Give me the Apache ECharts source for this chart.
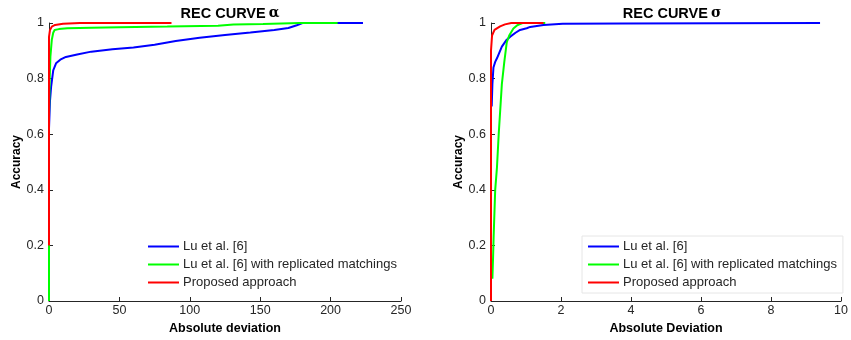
<!DOCTYPE html>
<html>
<head>
<meta charset="utf-8">
<script src="https://cdn.jsdelivr.net/npm/echarts@6/dist/echarts.min.js"></script>
<style>
  html, body { margin: 0; padding: 0; background: #fff; }
  #chart { width: 851px; height: 340px; }
</style>
</head>
<body>
<div id="chart"></div>
<script>
// names
var seriesNames = ['Lu et al. [6]', 'Lu et al. [6] with replicated matchings', 'Proposed approach']
var seriesColors = ['#0000ff', '#00ff00', '#ff0000']

// REC curve alpha (left)
var blueAlphaX = [0, 0, 0.7, 1.5, 3, 5, 8, 12, 20, 30, 45, 60, 75, 90, 107, 125, 143, 160, 170, 176, 180, 223]
var blueAlphaY = [0.47, 0.62, 0.72, 0.77, 0.83, 0.855, 0.868, 0.878, 0.887, 0.897, 0.906, 0.912, 0.922, 0.935, 0.947, 0.957, 0.966, 0.975, 0.982, 0.992, 1, 1]
var greenAlphaX = [0, 0, 0.5, 1, 2, 3, 4, 7, 13, 30, 50, 84, 120, 131, 152, 178, 205]
var greenAlphaY = [0, 0.66, 0.8, 0.88, 0.94, 0.965, 0.975, 0.978, 0.981, 0.983, 0.985, 0.987, 0.99, 0.995, 0.996, 1, 1]
var redAlphaX = [0, 0, 0.7, 2, 4.3, 10, 22, 87]
var redAlphaY = [0.2, 0.95, 0.975, 0.987, 0.993, 0.997, 1, 1]

// REC curve sigma (right)
var blueSigmaX = [0.02, 0.04, 0.07, 0.12, 0.17, 0.31, 0.45, 0.55, 0.7, 0.83, 1.02, 1.12, 1.5, 2.05, 3.75, 3.8, 9.4]
var blueSigmaY = [0.7, 0.78, 0.84, 0.86, 0.873, 0.915, 0.94, 0.951, 0.965, 0.975, 0.981, 0.986, 0.993, 0.997, 0.998, 1, 1]
var greenSigmaX = [0.04, 0.06, 0.075, 0.12, 0.17, 0.22, 0.26, 0.31, 0.38, 0.45, 0.52, 0.64, 0.75, 0.83, 0.9, 1.55]
var greenSigmaY = [0.08, 0.16, 0.23, 0.4, 0.48, 0.6, 0.68, 0.78, 0.86, 0.93, 0.955, 0.98, 0.992, 0.996, 1, 1]
var redSigmaX = [0, 0, 0.03, 0.1, 0.26, 0.4, 0.58, 1.5]
var redSigmaY = [0, 0.9, 0.955, 0.975, 0.988, 0.995, 1, 1]

// axes
var alphaXTicks = { min: 0, max: 250, interval: 50 }
var sigmaXTicks = { min: 0, max: 10, interval: 2 }
var yTicks = { min: 0, max: 1, interval: 0.2 }

var font = 'Arial, "Liberation Sans", Helvetica, sans-serif'
var ink = '#262626'

function pairs(xs, ys) {
  return xs.map(function (x, i) { return [x, ys[i]] })
}

function xAxis(grid, ticks, name) {
  return {
    type: 'value',
    gridIndex: grid,
    min: ticks.min,
    max: ticks.max,
    interval: ticks.interval,
    name: name,
    nameLocation: 'middle',
    nameGap: 19,
    nameTextStyle: { fontFamily: font, fontWeight: 'bold', fontSize: 12.5, color: '#000' },
    axisLine: { show: true, lineStyle: { color: ink, width: 1 } },
    axisTick: { show: true, inside: true, length: 4, lineStyle: { color: ink } },
    axisLabel: { fontFamily: font, fontSize: 12.5, color: ink, margin: 3 },
    splitLine: { show: false },
  }
}

function yAxis(grid) {
  return {
    type: 'value',
    gridIndex: grid,
    min: yTicks.min,
    max: yTicks.max,
    interval: yTicks.interval,
    name: 'Accuracy',
    nameLocation: 'middle',
    nameGap: 25,
    nameTextStyle: { fontFamily: font, fontWeight: 'bold', fontSize: 12, color: '#000' },
    axisLine: { show: true, lineStyle: { color: ink, width: 1 } },
    axisTick: { show: true, inside: true, length: 4, lineStyle: { color: ink } },
    axisLabel: { fontFamily: font, fontSize: 12.5, color: ink, margin: 5 },
    splitLine: { show: false },
  }
}

function line(i, grid, xs, ys) {
  return {
    name: seriesNames[i],
    type: 'line',
    xAxisIndex: grid,
    yAxisIndex: grid,
    data: pairs(xs, ys),
    showSymbol: false,
    color: seriesColors[i],
    lineStyle: { width: 2, color: seriesColors[i] },
    z: 2 + i,
  }
}

function legend(left, border) {
  return {
    orient: 'vertical',
    left: left,
    top: 236,
    align: 'left',
    icon: 'rect',
    itemWidth: 31,
    itemHeight: 2,
    itemGap: 5,
    padding: [4, 6, 4, 6],
    borderColor: border,
    borderWidth: 1,
    backgroundColor: '#fff',
    textStyle: { fontFamily: font, fontSize: 13, color: ink, lineHeight: 13, padding: [0, 0, 0, -1] },
    data: seriesNames,
  }
}

function title(text, greek, center) {
  return {
    text: '{b|' + text + '}{g|' + greek + '}',
    left: center,
    textAlign: 'center',
    top: 1,
    textStyle: {
      rich: {
        b: { fontFamily: font, fontWeight: 'bold', fontSize: 14.5, color: '#000' },
        g: { fontFamily: '"DejaVu Serif", "Liberation Serif", serif', fontSize: 14, color: '#000', padding: [0, 0, 0, 3] },
      },
    },
  }
}

var chart = echarts.init(document.getElementById('chart'), null, { renderer: 'canvas' })
chart.setOption({
  animation: false,
  backgroundColor: '#fff',
  title: [title('REC CURVE', 'α', 225), title('REC CURVE', 'σ', 667)],
  legend: [legend(142, 'rgba(0,0,0,0)'), legend(582, '#e6e6e6')],
  grid: [
    { left: 49, right: 450, top: 23, bottom: 39, containLabel: false },
    { left: 491, right: 8, top: 23, bottom: 39, containLabel: false },
  ],
  xAxis: [xAxis(0, alphaXTicks, 'Absolute deviation'), xAxis(1, sigmaXTicks, 'Absolute Deviation')],
  yAxis: [yAxis(0), yAxis(1)],
  series: [
    line(0, 0, blueAlphaX, blueAlphaY),
    line(1, 0, greenAlphaX, greenAlphaY),
    line(2, 0, redAlphaX, redAlphaY),
    line(0, 1, blueSigmaX, blueSigmaY),
    line(1, 1, greenSigmaX, greenSigmaY),
    line(2, 1, redSigmaX, redSigmaY),
  ],
})
</script>
</body>
</html>
